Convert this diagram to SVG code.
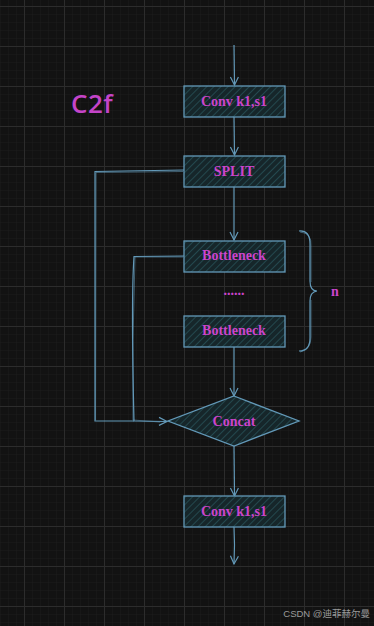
<svg xmlns="http://www.w3.org/2000/svg" width="374" height="626" viewBox="0 0 374 626">
  <defs>
    <pattern id="minor" width="8" height="8" patternUnits="userSpaceOnUse" x="24" y="6">
      <path d="M0,0 H8 M0,0 V8" stroke="#1b1b1b" stroke-width="1" fill="none"/>
    </pattern>
    <pattern id="major" width="40" height="40" patternUnits="userSpaceOnUse" x="24" y="6">
      <path d="M0,0.5 H40 M0.5,0 V40" stroke="#2c2c2c" stroke-width="1" fill="none"/>
    </pattern>
    <pattern id="hatch" width="5" height="5" patternUnits="userSpaceOnUse" patternTransform="rotate(-45)">
      <rect width="5" height="5" fill="#16262a"/>
      <path d="M0,2.5 H5" stroke="#24484e" stroke-width="1"/>
    </pattern>
    <marker id="arrow" viewBox="-10 -6 12 12" markerWidth="12" markerHeight="12" refX="0" refY="0" orient="auto" markerUnits="userSpaceOnUse">
      <path d="M-8,-4 L0,0 L-8,4" fill="none" stroke="#6399b8" stroke-width="1.2"/>
    </marker>
    <style>
      .node { fill: url(#hatch); stroke: #6399b8; stroke-width: 1.3; }
      .label { font-family: "Liberation Serif", "Times New Roman", serif; font-weight: bold; font-size: 14px; fill: #cc44cc; text-anchor: middle; dominant-baseline: central; }
      .wire { fill: none; stroke: #6399b8; stroke-width: 1.2; }
      .sketch { fill: none; stroke: #6399b8; stroke-width: 0.8; opacity: 0.7; }
    </style>
  </defs>

  <!-- canvas with grid -->
  <rect width="374" height="626" fill="#121212"/>
  <rect width="374" height="626" fill="url(#minor)"/>
  <rect width="374" height="626" fill="url(#major)"/>

  <!-- title -->
  <text x="71" y="113" font-family="'Open Sans', 'Noto Sans', sans-serif" font-size="26" font-weight="600" fill="#c444c8" letter-spacing="0.5">C2f</text>

  <!-- connectors -->
  <g id="connectors">
    <path class="wire" d="M234,45 L234.5,85" marker-end="url(#arrow)"/>
    <path class="wire" d="M234,117 L234.5,155" marker-end="url(#arrow)"/>
    <path class="wire" d="M234,187 L234,240" marker-end="url(#arrow)"/>
    <path class="wire" d="M234,347 L234,396" marker-end="url(#arrow)"/>
    <path class="wire" d="M234,446 L234.5,496" marker-end="url(#arrow)"/>
    <path class="wire" d="M234,527 Q235,545 234,564" marker-end="url(#arrow)"/>
    <!-- shortcut from SPLIT -->
    <path class="wire" d="M184,170 L95,171.5 L95,421 L134,421"/>
    <path class="sketch" d="M183,171.5 L96,172.5 L95.5,420"/>
    <!-- shortcut from first Bottleneck -->
    <path class="wire" d="M184,256 L134,256.5 Q131,300 134,421 L167,421.5" marker-end="url(#arrow)"/>
    <path class="sketch" d="M183,257 L135,257 Q132,340 133,420 L160,422"/>
  </g>

  <!-- repeat brace -->
  <g id="brace">
    <path class="wire" d="M299,231 Q310,230 310,244 L310,281 Q310,291 317,291 Q310,292 310,301 L310,338 Q310,351 299,351"/>
    <path class="sketch" d="M300,232 Q312,233 311,246 L311,282 M311,300 L311,337 Q311,350 300,352"/>
    <text class="label" x="335" y="291">n</text>
  </g>

  <g id="conv-in">
    <rect class="node" x="184" y="86" width="101" height="31"/>
    <text class="label" x="234" y="101">Conv k1,s1</text>
  </g>

  <g id="split">
    <rect class="node" x="184" y="156" width="101" height="31"/>
    <text class="label" x="234" y="171">SPLIT</text>
  </g>

  <g id="bottleneck-1">
    <rect class="node" x="184" y="241" width="101" height="31"/>
    <text class="label" x="234" y="255">Bottleneck</text>
  </g>

  <g id="ellipsis">
    <text class="label" x="234" y="290" font-size="11">......</text>
  </g>

  <g id="bottleneck-2">
    <rect class="node" x="184" y="316" width="101" height="31"/>
    <text class="label" x="234" y="330">Bottleneck</text>
  </g>

  <g id="concat">
    <path class="node" d="M234,396 L299,421 L234,446 L168,421 Z"/>
    <text class="label" x="234" y="421">Concat</text>
  </g>

  <g id="conv-out">
    <rect class="node" x="184" y="496" width="101" height="31"/>
    <text class="label" x="234" y="511">Conv k1,s1</text>
  </g>

  <text x="370" y="617" text-anchor="end" font-family="'Liberation Sans', 'Noto Sans CJK SC', sans-serif" font-size="9.5" fill="#9a9a9a">CSDN @迪菲赫尔曼</text>
</svg>
